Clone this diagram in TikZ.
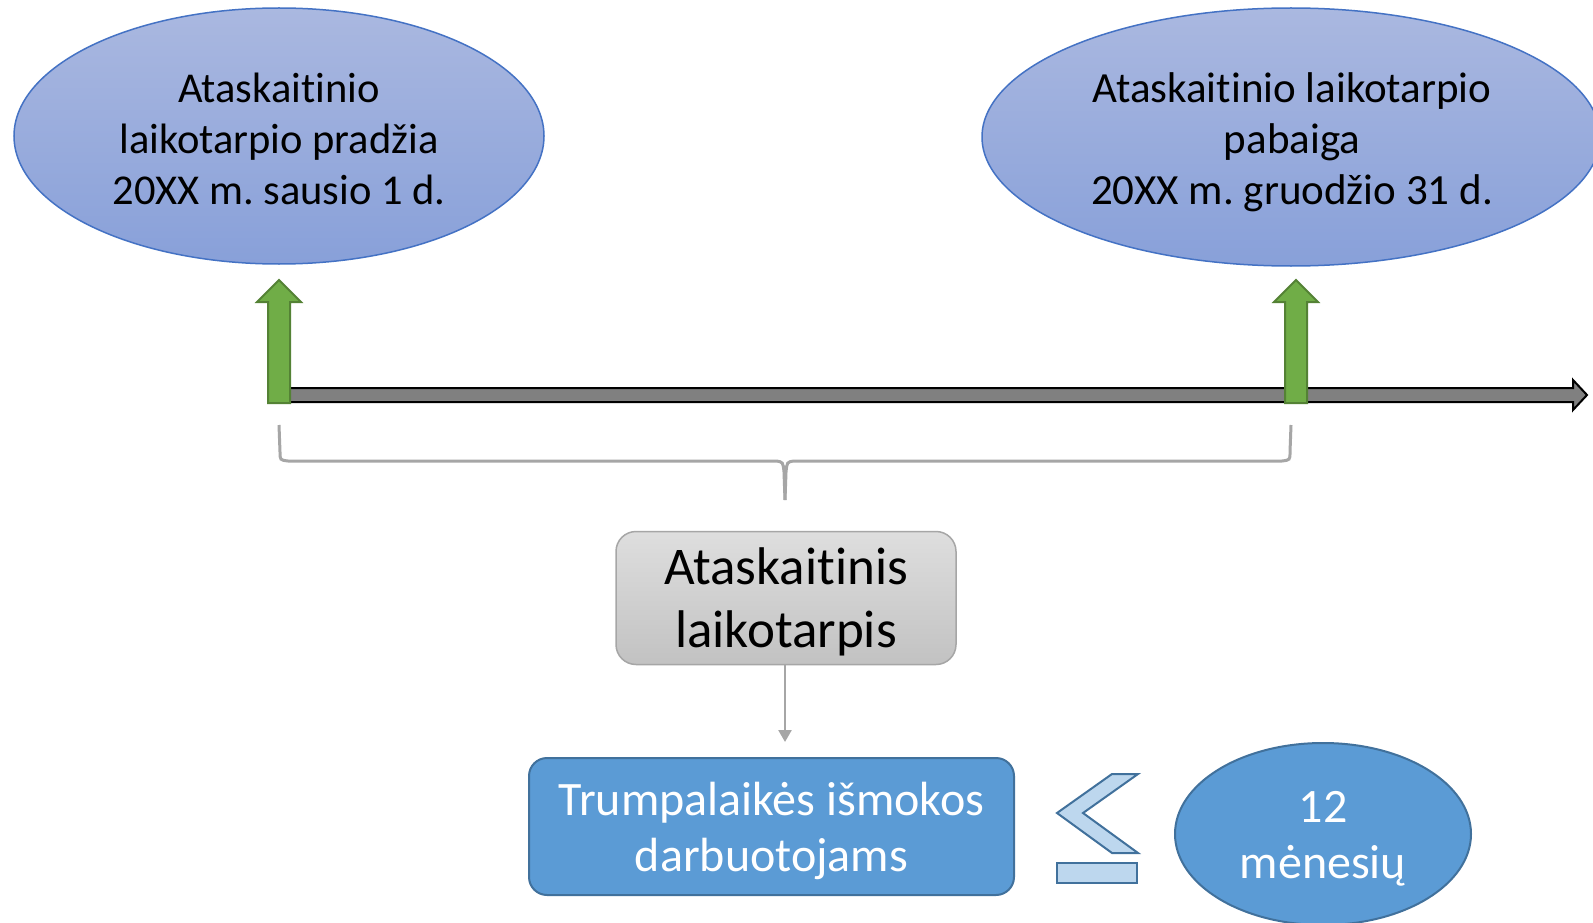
\documentclass[tikz,border=0pt]{standalone}
\usepackage{fontspec}
\setmainfont{Carlito}[Ligatures=NoCommon]
\frenchspacing
\usetikzlibrary{shapes.geometric,arrows.meta}
\definecolor{ellTop}{RGB}{170,184,224}
\definecolor{ellBot}{RGB}{136,160,217}
\definecolor{ellLine}{RGB}{68,114,196}
\definecolor{grnFill}{RGB}{112,173,71}
\definecolor{grnLine}{RGB}{84,130,53}
\definecolor{tlFill}{RGB}{128,128,128}
\definecolor{brGray}{RGB}{166,166,166}
\definecolor{boxTop}{RGB}{222,222,222}
\definecolor{boxBot}{RGB}{194,194,194}
\definecolor{blueFill}{RGB}{91,155,213}
\definecolor{blueLine}{RGB}{65,113,156}
\definecolor{leFill}{RGB}{189,215,238}
\tikzset{
  dateell/.style={ellipse, draw=ellLine, line width=1.5pt, top color=ellTop, bottom color=ellBot,
    inner sep=0pt},
  datetext/.style={inner sep=0pt, align=center, font=\fontsize{42.5}{51}\selectfont\frenchspacing},
  greenarrow/.style={draw=grnLine, fill=grnFill, line width=2pt, line join=miter},
  periodbox/.style={rectangle, rounded corners=20pt, draw=brGray, line width=1.5pt,
    top color=boxTop, bottom color=boxBot, minimum width=340pt, minimum height=133pt},
  periodtext/.style={inner sep=0pt, align=center, font=\fontsize{53}{63}\selectfont},
  benefitbox/.style={rectangle, rounded corners=18pt, draw=blueLine, line width=2pt,
    fill=blueFill, minimum width=485pt, minimum height=137pt},
  whitetext/.style={inner sep=0pt, text=white, align=center, font=\fontsize{48}{56}\selectfont},
  monthell/.style={ellipse, draw=blueLine, line width=2pt, fill=blueFill,
    minimum width=296pt, minimum height=182pt, inner sep=0pt},
  lesym/.style={draw=blueLine, fill=leFill, line width=2pt, line join=miter},
}
\begin{document}
\begin{tikzpicture}[x=1pt,y=-1pt]
\clip (0,0) rectangle (1593,923);
\fill[white] (0,0) rectangle (1593,923);

% ellipses
\node[dateell, minimum width=530pt, minimum height=256pt] (start) at (279,136) {};
\node[datetext] (startText) at (279,139)
  {Ataskaitinio\\laikotarpio pradžia\\20XX m. sausio 1 d.};
\node[dateell, minimum width=618pt, minimum height=258pt] (end) at (1291,137) {};
\node[datetext, font=\fontsize{43}{51}\selectfont\frenchspacing] (endText) at (1292,142)
  {Ataskaitinio laikotarpio\\pabaiga\\20XX m. gruodžio 31 d.};

% timeline
\coordinate (tlTip) at (1587,395);
\draw[fill=tlFill, draw=black, line width=2pt, line join=miter]
  (285,388) -- (1573,388) -- (1573,380) -- (tlTip) -- (1573,410) -- (1573,402) -- (285,402) -- cycle;

% green arrows
\coordinate (gA) at (279,280);
\draw[greenarrow] (268,403) -- (268,302) -- (257,302) -- (gA) -- (301,302) -- (290,302) -- (290,403) -- cycle;
\coordinate (gB) at (1296,280);
\draw[greenarrow] (1285,403) -- (1285,302) -- (1274,302) -- (gB) -- (1318,302) -- (1307,302) -- (1307,403) -- cycle;

% brace
\coordinate (brL) at (279,425);
\coordinate (brR) at (1291,425);
\coordinate (brM) at (785,500);
\draw[brGray, line width=3pt]
  (brL) -- (280,452) .. controls (280,460) .. (288,461) -- (776,461)
  .. controls (783,462) .. (784,472) -- (brM);
\draw[brGray, line width=3pt]
  (brR) -- (1290,452) .. controls (1290,460) .. (1282,461) -- (794,461)
  .. controls (787,462) .. (786,472) -- (brM);

% period box
\node[periodbox] (period) at (786,598) {};
\node[periodtext] (periodText) at (786,602) {Ataskaitinis\\laikotarpis};

% benefits box
\node[benefitbox] (benefit) at (771.5,826.5) {};
\node[whitetext] (benefitText) at (771.5,831) {Trumpalaikės išmokos\\darbuotojams};
\coordinate (arrEnd) at (785,742);
\draw[brGray, line width=2.5pt, -{Triangle[width=13pt,length=12pt]}] (period.south -| arrEnd) -- (arrEnd);

% less-or-equal symbol
\draw[lesym] (1112,774) -- (1138,774) -- (1083,813) -- (1138,853) -- (1112,853) -- (1057,813) -- cycle;
\draw[lesym] (1057,863) rectangle (1137,883);

% 12 months
\node[monthell] (months) at (1323,834) {};
\node[whitetext] (monthsText) at (1323,839) {12\\mėnesių};
\end{tikzpicture}
\end{document}
